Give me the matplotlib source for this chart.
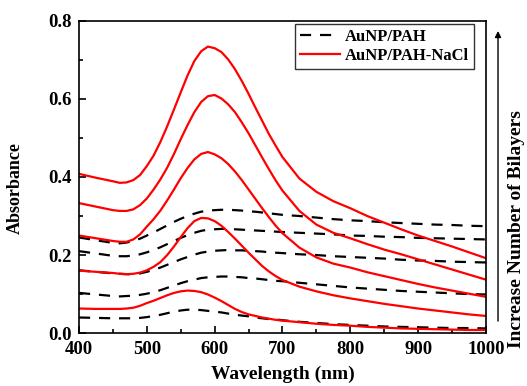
import matplotlib
matplotlib.use("Agg")
import matplotlib.pyplot as plt
from matplotlib.ticker import MultipleLocator

plt.rcParams['font.family'] = ['Liberation Serif', 'DejaVu Serif']
plt.rcParams['font.weight'] = 'bold'

# wavelength grid (nm)
wl = [400, 425, 450, 460, 470, 480, 490, 500, 510, 520, 530, 540, 550, 560, 570, 580, 590,
      600, 610, 620, 630, 640, 650, 660, 670, 680, 690, 700, 725, 750, 775,
      800, 825, 850, 875, 900, 925, 950, 975, 1000]

# AuNP/PAH-NaCl (red, solid), top to bottom
nacl_1 = [.408, .398, .389, .385, .386, .392, .405, .428, .455, .490, .530, .573, .617, .660,
          .697, .722, .734,
          .730, .720, .701, .676, .646, .613, .578, .544, .510, .480, .451, .396, .362, .338,
          .320, .300, .283, .266, .250, .236, .222, .207, .192]
nacl_2 = [.333, .324, .315, .313, .313, .317, .328, .345, .368, .394, .424, .459, .497, .533,
          .566, .592, .607,
          .610, .601, .586, .566, .540, .512, .481, .450, .420, .391, .365, .313, .278, .257,
          .243, .228, .214, .202, .189, .176, .163, .150, .137]
nacl_3 = [.250, .243, .236, .234, .234, .240, .253, .273, .292, .314, .340, .368, .397, .423,
          .445, .459, .464,
          .458, .448, .433, .414, .392, .368, .344, .320, .297, .275, .256, .219, .194, .178,
          .168, .156, .146, .136, .126, .117, .109, .101, .093]
nacl_4 = [.160, .157, .154, .152, .151, .152, .155, .161, .170, .182, .200, .222, .246, .269,
          .287, .295, .294,
          .287, .275, .259, .242, .224, .206, .189, .172, .158, .146, .136, .119, .107, .097,
          .089, .082, .075, .069, .063, .058, .053, .048, .044]
nacl_5 = [.063, .062, .062, .062, .063, .065, .070, .077, .083, .090, .097, .103, .107, .109,
          .108, .105, .099,
          .091, .082, .072, .062, .054, .048, .044, .040, .037, .034, .032, .028, .024, .021,
          .019, .016, .014, .012, .011, .010, .009, .008, .008]

# AuNP/PAH (black, dashed), top to bottom
pah_1 = [.245, .238, .231, .230, .232, .236, .242, .250, .258, .267, .276, .285, .293, .300,
         .306, .311, .314,
         .315, .316, .316, .315, .314, .312, .311, .309, .307, .305, .303, .300, .296, .292,
         .289, .287, .284, .282, .280, .278, .277, .275, .274]
pah_2 = [.210, .204, .198, .197, .197, .199, .202, .207, .213, .220, .228, .236, .244, .251,
         .257, .262, .265,
         .266, .267, .267, .266, .265, .264, .263, .262, .261, .260, .259, .257, .255, .253,
         .250, .249, .247, .246, .244, .243, .242, .241, .240]
pah_3 = [.161, .157, .153, .152, .151, .151, .153, .157, .162, .168, .175, .182, .189, .195,
         .201, .206, .209,
         .211, .212, .213, .212, .212, .211, .210, .209, .207, .206, .205, .202, .200, .197,
         .195, .193, .191, .188, .186, .185, .183, .182, .181]
pah_4 = [.103, .099, .095, .094, .095, .096, .098, .101, .105, .110, .116, .122, .128, .133,
         .137, .141, .143,
         .144, .145, .145, .144, .143, .141, .140, .138, .136, .134, .133, .129, .125, .121,
         .117, .114, .111, .108, .106, .104, .102, .100, .099]
pah_5 = [.040, .039, .038, .038, .038, .038, .039, .041, .044, .047, .051, .055, .058, .060,
         .060, .059, .057,
         .055, .053, .050, .047, .045, .043, .040, .038, .036, .035, .033, .029, .026, .023,
         .021, .019, .017, .016, .015, .014, .013, .013, .012]

nacl = [nacl_1, nacl_2, nacl_3, nacl_4, nacl_5]
pah = [pah_1, pah_2, pah_3, pah_4, pah_5]

fig = plt.figure(figsize=(5.27, 3.86), dpi=100)
ax = fig.add_axes([0.150, 0.137, 0.772, 0.809])

for i, s in enumerate(pah):
    ax.plot(wl, s, color='black', lw=1.6, ls=(0, (5, 4)),
            label='AuNP/PAH' if i == 0 else None)
for i, s in enumerate(nacl):
    ax.plot(wl, s, color='red', lw=1.6,
            label='AuNP/PAH-NaCl' if i == 0 else None)

ax.set_xlim(400, 1000)
ax.set_ylim(0, 0.8)
ax.xaxis.set_major_locator(MultipleLocator(100))
ax.xaxis.set_minor_locator(MultipleLocator(50))
ax.yaxis.set_major_locator(MultipleLocator(0.2))
ax.yaxis.set_minor_locator(MultipleLocator(0.1))
ax.tick_params(which='both', direction='in', top=False, right=False,
               labelsize=13.5, width=1.2)
ax.tick_params(axis='x', pad=6)
ax.tick_params(axis='y', pad=5)
ax.tick_params(which='major', length=5)
ax.tick_params(which='minor', length=3)
ax.yaxis.set_major_formatter(plt.FormatStrFormatter('%.1f'))
for sp in ax.spines.values():
    sp.set_linewidth(1.2)

ax.set_xlabel('Wavelength (nm)', fontsize=14, fontweight='bold')
ax.xaxis.set_label_coords(0.5, -0.105)
ax.set_ylabel('Absorbance', fontsize=13, fontweight='bold')
ax.yaxis.set_label_coords(-0.135, 0.465)

leg = ax.legend(loc='upper right', bbox_to_anchor=(0.97, 0.99), fontsize=12,
                frameon=True, fancybox=False, edgecolor='black', borderaxespad=0,
                handlelength=2.4, handletextpad=0.3, borderpad=0.3,
                labelspacing=0.2)
leg.get_frame().set_linewidth(1.0)

# arrow on the right side
fig.add_artist(matplotlib.patches.FancyArrowPatch(
    (0.945, 0.161), (0.945, 0.927), transform=fig.transFigure,
    arrowstyle='-|>', mutation_scale=9, color='black', lw=1.0))
fig.text(0.981, 0.407, 'Increase Number of Bilayers', rotation=90,
         ha='center', va='center', fontsize=14, fontweight='bold')

fig.savefig('out.png', dpi=100)
